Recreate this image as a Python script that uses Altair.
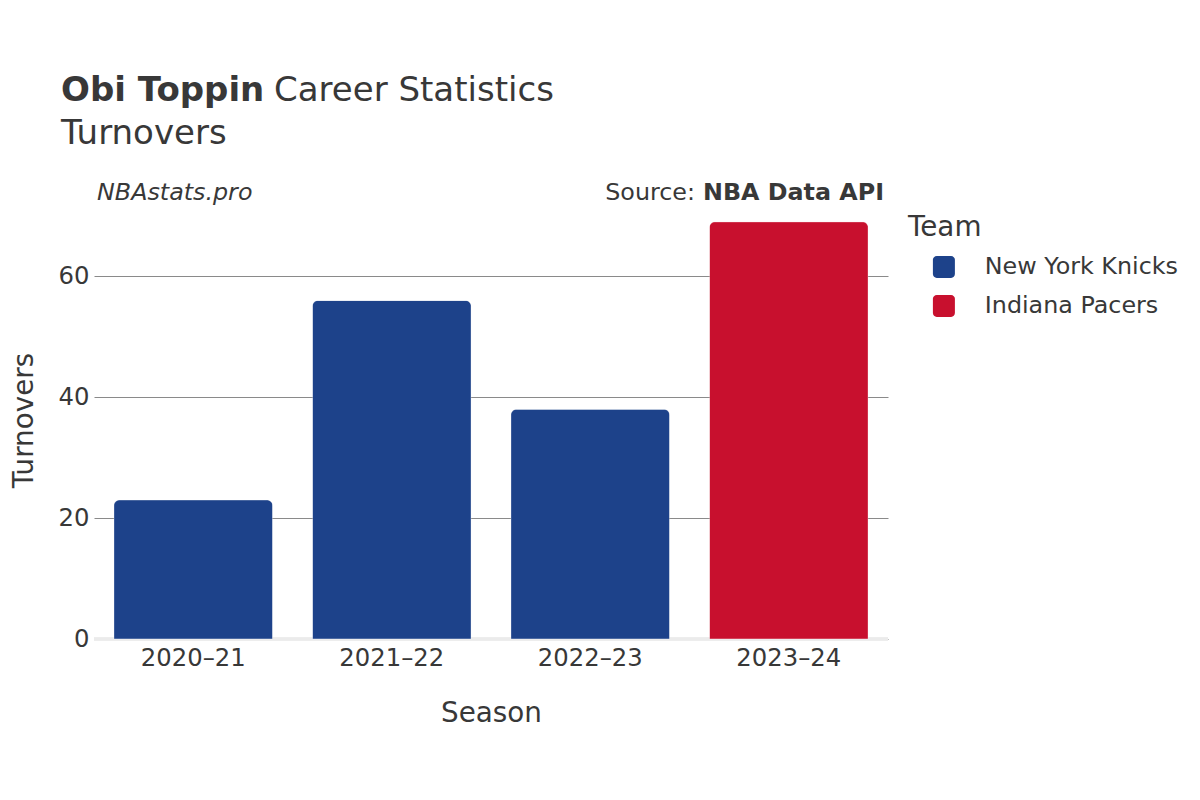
import altair as alt
import pandas as pd

seasons = ["2020–21", "2021–22", "2022–23", "2023–24"]
teams = ["New York Knicks", "New York Knicks", "New York Knicks", "Indiana Pacers"]
turnovers = [23, 56, 38, 69]
team_domain = ["New York Knicks", "Indiana Pacers"]
team_colors = ["#1D428A", "#C8102E"]
y_ticks = [0, 20, 40, 60]

df = pd.DataFrame({"Season": seasons, "Team": teams, "Turnovers": turnovers})

FONT = "DejaVu Sans"
TXT = "#383838"
W, H = 794, 438
OX, OY = 94, 201  # plot origin in page coords (incl 8px margin)

rounded = ("M -1 -0.65 A 0.35 0.35 0 0 1 -0.65 -1 L 0.65 -1 A 0.35 0.35 0 0 1 1 -0.65 "
           "L 1 0.65 A 0.35 0.35 0 0 1 0.65 1 L -0.65 1 A 0.35 0.35 0 0 1 -1 0.65 Z")

base = alt.Chart(df)

zero = base.mark_rule(color="#ebebeb", strokeWidth=3).encode(
    y=alt.datum(0), x=alt.value(0), x2=alt.value(W)
)

bars = base.mark_bar(cornerRadiusTopLeft=6, cornerRadiusTopRight=6,
                     stroke="white", strokeWidth=0.6, strokeOpacity=0.4).encode(
    x=alt.X("Season:N", sort=seasons,
            scale=alt.Scale(paddingInner=0.2, paddingOuter=0.1),
            axis=alt.Axis(title="Season", labelAngle=0, ticks=False, domain=False,
                          labelPadding=7, titlePadding=29)),
    y=alt.Y("Turnovers:Q", scale=alt.Scale(domain=[0, 72.45], nice=False, zero=True),
            axis=alt.Axis(title="Turnovers", values=y_ticks, domain=False, ticks=False,
                          grid=True, labelPadding=5, titlePadding=20,
                          gridColor="#8a8a8a", gridWidth=1)),
    color=alt.Color("Team:N", scale=alt.Scale(domain=team_domain, range=team_colors),
                    legend=alt.Legend(title=None, orient="none",
                                      legendX=932 - OX, legendY=266 - 11 - OY,
                                      symbolType=rounded, symbolSize=484,
                                      symbolStrokeWidth=0, labelOffset=29,
                                      rowPadding=14, padding=0, labelLimit=0,
                                      labelFontSize=23.8, labelFont=FONT,
                                      labelColor=TXT)),
)

one = pd.DataFrame({"a": [0]})

def txt(s, x, y, size, weight="normal", style="normal", align="left"):
    return alt.Chart(one).mark_text(
        text=s, fontSize=size, font=FONT, fontWeight=weight, fontStyle=style,
        align=align, baseline="alphabetic", color=TXT
    ).encode(x=alt.value(x - OX), y=alt.value(y - OY))

texts = [
    txt("Obi Toppin", 61, 101, 34, weight="bold"),
    txt("Career Statistics", 274, 101, 34),
    txt("Turnovers", 61, 144, 34),
    txt("NBAstats.pro", 97, 200, 23.8, style="italic"),
    txt("NBA Data API", 884, 200, 23.8, weight="bold", align="right"),
    txt("Source:", 695, 200, 23.8, align="right"),
    txt("Team", 908, 236, 27.8),
]

chart = alt.layer(zero, bars, *texts).properties(
    width=W, height=H,
    autosize=alt.AutoSizeParams(type="none"),
    padding={"left": OX - 8, "top": OY - 8, "right": 1200 - 16 - W - (OX - 8), "bottom": 800 - 16 - H - (OY - 8)},
).configure_view(stroke=None).configure_axis(
    labelFont=FONT, titleFont=FONT, labelFontSize=24.3, titleFontSize=27.8,
    labelColor=TXT, titleColor=TXT, titleFontWeight="normal"
)

chart.save("out.html", embed_options={"renderer": "svg", "actions": False})
